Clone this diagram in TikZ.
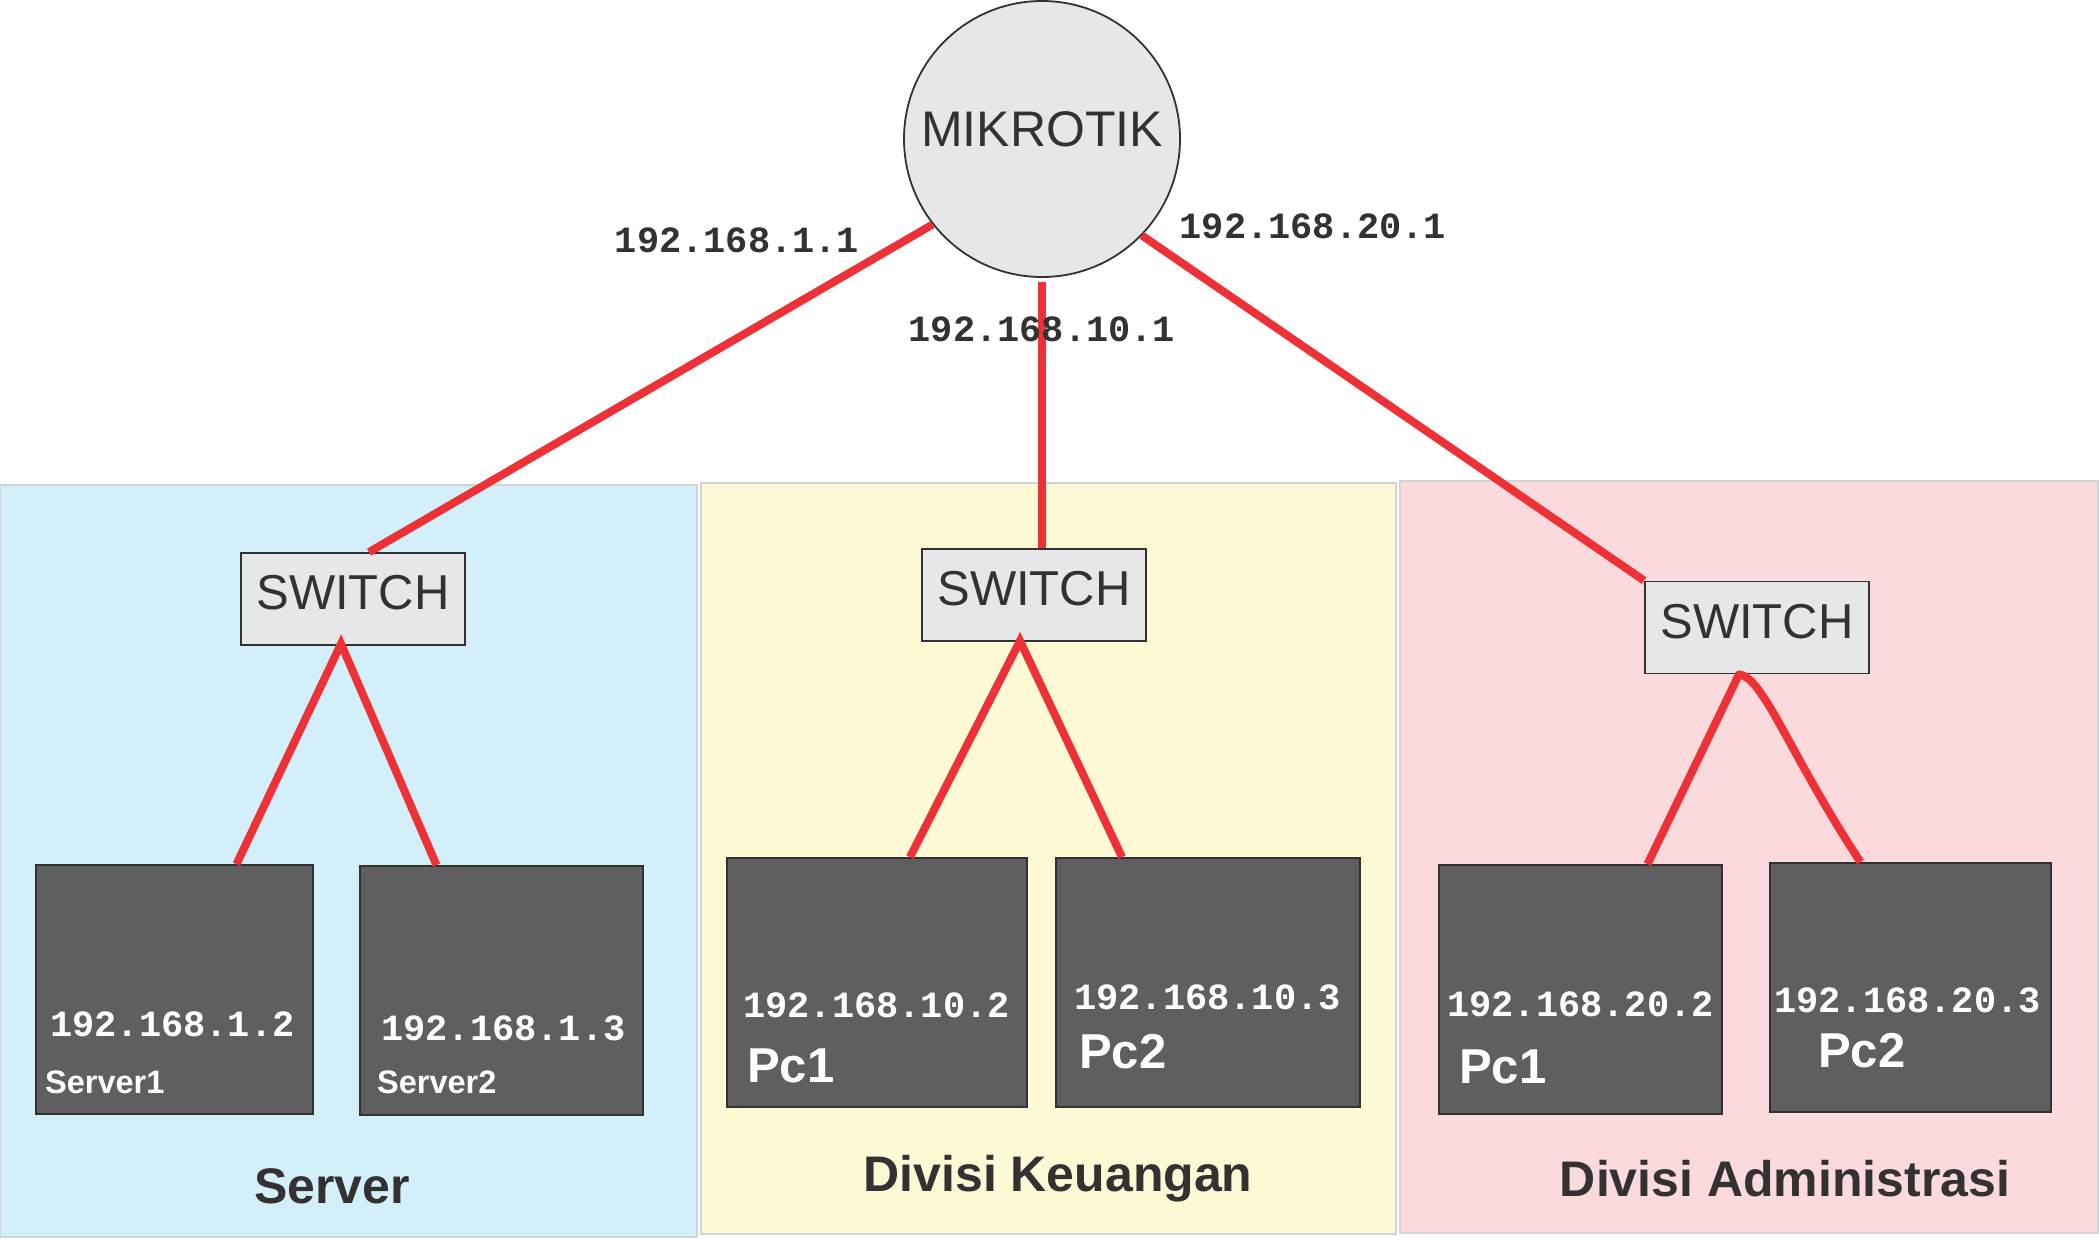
\documentclass[tikz,border=0pt]{standalone}
\usepackage{fontspec}
\setmainfont{Liberation Sans}
\newfontfamily\ipfont{Liberation Mono}
\definecolor{bluebg}{HTML}{D3EFFA}
\definecolor{yelbg}{HTML}{FEFAD6}
\definecolor{pinkbg}{HTML}{FADADD}
\definecolor{panelline}{HTML}{D2D3D5}
\definecolor{devfill}{HTML}{E6E7E8}
\definecolor{darkbox}{HTML}{5F5F62}
\definecolor{linkred}{HTML}{EE3137}
\definecolor{ink}{HTML}{333132}
\begin{document}
\begin{tikzpicture}[x=1pt,y=-1pt,
  panel/.style={draw=panelline, line width=2pt, inner sep=0pt},
  router/.style={circle, draw=ink, line width=1.8pt, fill=devfill, minimum size=276pt, inner sep=0pt,
     text=ink, font=\fontsize{50}{56}\selectfont, text height=36pt, text depth=22pt},
  switchbox/.style={rectangle, draw=ink, line width=1.8pt, fill=devfill, minimum width=224pt, minimum height=92pt,
     inner sep=0pt, text=ink, font=\fontsize{49}{55}\selectfont, text height=35pt, text depth=14pt},
  hostbox/.style={rectangle, draw=ink, line width=1.8pt, fill=darkbox, minimum height=249pt, inner sep=0pt},
  link/.style={draw=linkred, line width=8pt},
  iplabel/.style={inner sep=0pt, text=ink, font=\ipfont\bfseries\fontsize{37}{40}\selectfont},
  hostip/.style={inner sep=0pt, anchor=west, text=white, font=\ipfont\bfseries\fontsize{37}{40}\selectfont},
  smallname/.style={inner sep=0pt, anchor=west, text=white, font=\bfseries\fontsize{32.5}{36}\selectfont},
  bigname/.style={inner sep=0pt, anchor=west, text=white, font=\bfseries\fontsize{49}{54}\selectfont},
  grouptitle/.style={inner sep=0pt, text=ink, font=\bfseries\fontsize{50}{56}\selectfont}]
\useasboundingbox (0,0) rectangle (2099,1240);

% panels
\node[panel, fill=bluebg, minimum width=697pt, minimum height=752pt] (pserver) at (348.5,861) {};
\node[panel, fill=yelbg, minimum width=695pt, minimum height=751pt] (pkeu) at (1048.5,858.5) {};
\node[panel, fill=pinkbg, minimum width=698pt, minimum height=752pt] (padm) at (1749,857) {};

% router and switches
\node[router] (mik) at (1042,139) {MIKROTIK};
\node[switchbox] (sw1) at (353,599) {SWITCH};
\node[switchbox] (sw2) at (1034,595) {SWITCH};
\node[switchbox] (sw3) at (1757,627.5) {SWITCH};

% hosts
\node[hostbox, minimum width=277pt] (srv1) at (174.5,989.5) {};
\node[hostbox, minimum width=283pt] (srv2) at (501.5,990.5) {};
\node[hostbox, minimum width=300pt] (pc1k) at (877,982.5) {};
\node[hostbox, minimum width=304pt] (pc2k) at (1208,982.5) {};
\node[hostbox, minimum width=283pt] (pc1a) at (1580.5,989.5) {};
\node[hostbox, minimum width=281pt] (pc2a) at (1910.5,987.5) {};

% links
\draw[link] (mik.218) -- ([xshift=16pt]sw1.north);
\draw[link] ([yshift=-4pt]mik.south) -- ([xshift=8pt]sw2.north);
\draw[link] (mik.316) -- (sw3.north west);
\draw[link, line join=miter] ([xshift=62pt]srv1.north) -- ([xshift=-12pt,yshift=2pt]sw1.south) -- ([xshift=-65pt]srv2.north);
\draw[link, line join=miter] ([xshift=33pt]pc1k.north) -- ([xshift=-14pt,yshift=1pt]sw2.south) -- ([xshift=-86pt]pc2k.north);
\draw[link, line join=round] ([xshift=67pt]pc1a.north) -- ([xshift=-18pt]sw3.south)
   .. controls +(24,2) and +(-71,-108) .. ([xshift=-50pt]pc2a.north);

% router port addresses
\node[iplabel] (ip1) at (737,240) {192.168.1.1};
\node[iplabel] (ip10) at (1042,329) {192.168.10.1};
\node[iplabel] (ip20) at (1313,226) {192.168.20.1};

% host labels
\node[hostip] (srv1ip) at (50,1024) {192.168.1.2};
\node[smallname] (srv1n) at (45,1082) {Server1};
\node[hostip] (srv2ip) at (381,1028) {192.168.1.3};
\node[smallname] (srv2n) at (377,1082) {Server2};
\node[hostip] (pc1kip) at (743,1005) {192.168.10.2};
\node[bigname] (pc1kn) at (747,1066) {Pc1};
\node[hostip] (pc2kip) at (1074,997) {192.168.10.3};
\node[bigname] (pc2kn) at (1079,1052) {Pc2};
\node[hostip] (pc1aip) at (1447,1004) {192.168.20.2};
\node[bigname] (pc1an) at (1459,1067) {Pc1};
\node[hostip] (pc2aip) at (1774,1000) {192.168.20.3};
\node[bigname] (pc2an) at (1818,1051) {Pc2};

% group titles
\node[grouptitle] (tserver) at (332,1186) {Server};
\node[grouptitle] (tkeu) at (1058,1179) {Divisi Keuangan};
\node[grouptitle] (tadm) at (1785,1179) {Divisi Administrasi};
\end{tikzpicture}
\end{document}
